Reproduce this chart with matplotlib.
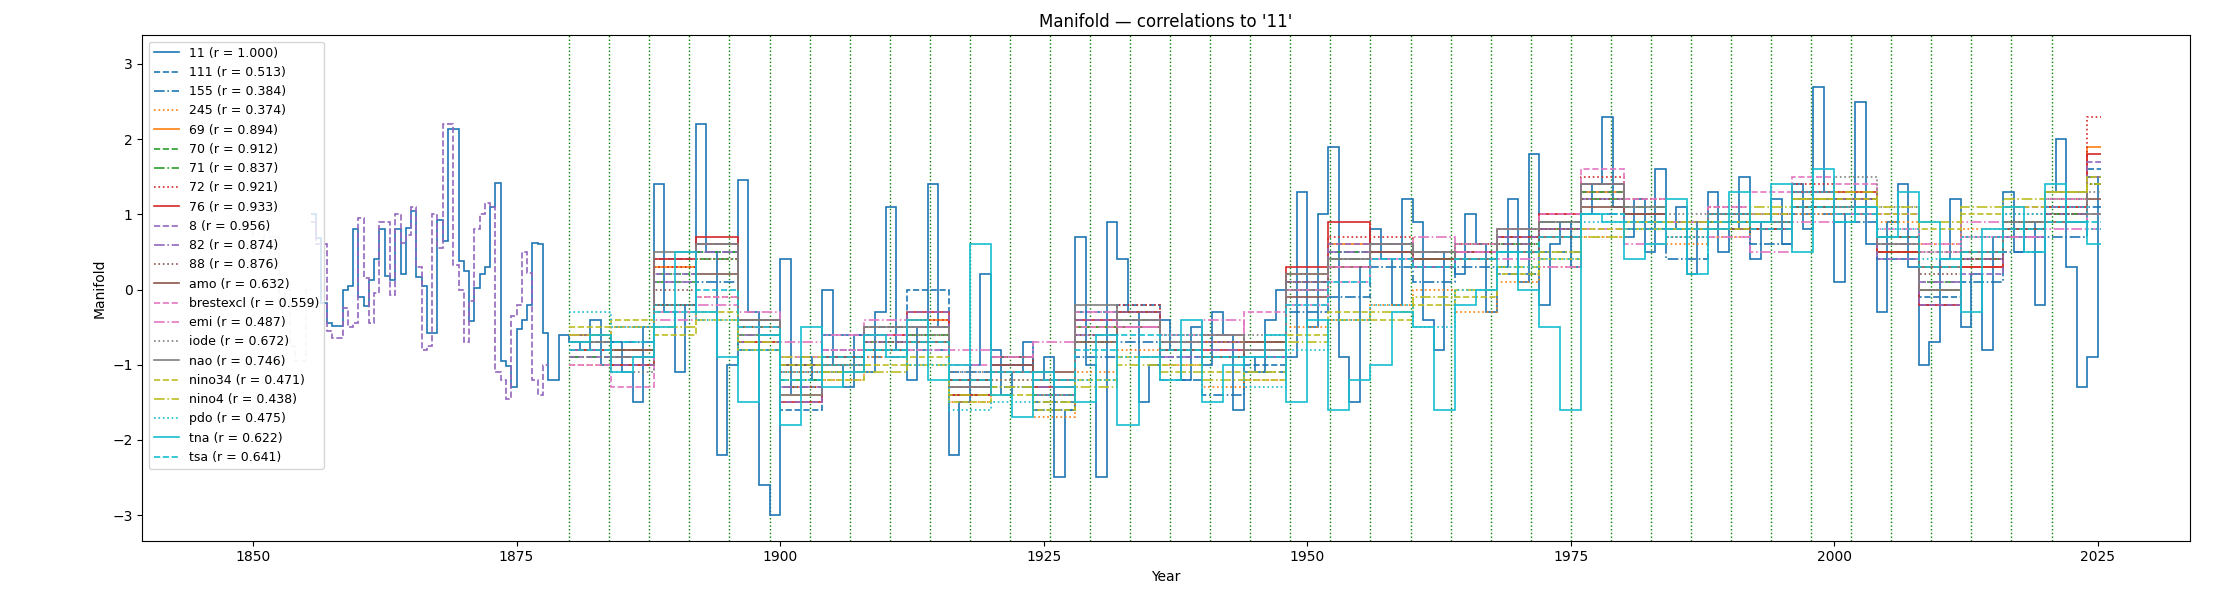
import numpy as np
import matplotlib.pyplot as plt

# series '11': half-year steps before 1878, yearly afterwards
s11_early = [1.0, 0.68, -0.18, -0.45, -0.48, -0.48, 0.0, 0.05, 0.8, -0.1, -0.22, 0.13, 0.4, 0.8,
             0.18, 0.12, 0.8, 0.2, 0.82, 1.05, 0.17, 0.05, -0.58, -0.58, 0.93, 0.65, 2.13, 2.13,
             0.38, 0.25, -0.42, 0.02, 0.2, 0.3, 1.1, 1.42, -0.95, -1.02, -1.3, -0.52, -0.4, -0.2,
             0.62, 0.61, -0.58]
s11_late = [-1.2, -0.6,
            -0.7, -0.8, -0.4, -1.0, -0.7, -1.1, -1.5, -0.5, 1.4, -0.3, -1.1, -0.2, 2.2, 0.5, -2.2,
            -1.0, 1.45, -0.3, -2.6, -3.0, 0.4, -1.4, -0.9, -1.2, 0.0, -1.0, -1.3, -0.6, -1.1, -0.3,
            1.1, -0.8, -1.2, -0.5, 1.4, -0.5, -2.2, -1.5, -1.0, 0.2, -0.8, -1.4, -1.1, -0.7, -1.2,
            -0.9, -2.5, -1.6, 0.7, -1.0, -2.5, 0.9, 0.4, -0.3, -1.5, -1.0, -0.4, -0.8, -1.2, -0.5,
            -1.0, -0.3, -0.6, -1.6, -0.9, -1.1, -0.4, 0.0, -0.9, 1.3, -0.5, 1.0, 1.9, -0.9, -1.5,
            0.3, 0.8, 0.4, -0.2, 1.2, 0.9, -0.4, -0.8, 0.5, 0.2, 1.0, 0.6, -0.3, 0.3, 1.2, 0.1,
            1.8, -0.2, 0.6, 0.9, 0.3, 1.0, 1.4, 2.3, 1.1, 0.7, 1.2, 0.5, 1.6, 0.8, 1.1, 0.2, 0.9,
            1.3, 0.5, 0.8, 1.5, 0.4, 0.9, 1.2, 0.6, 1.4, 0.8, 2.7, 1.3, 0.1, 1.0, 2.5, 0.6, -0.3,
            0.9, 1.4, 0.3, -1.0, -0.7, 0.4, 1.2, -0.5, 0.2, -0.8, 0.7, 1.3, 0.5, 0.9, -0.2, 1.3,
            2.0, 0.3, -1.3, -0.9, 1.5]

# series '8': faded half-year part 1848.5-1855.5, then half-year steps to 1878
s8_pale = [0.8, 0.8, 0.8, 0.5, 0.5, 1.0, 0.7, 0.7, -0.25, 0.0, -0.75, -0.95, -0.95, 0.0]
s8_early = [0.9, 0.6, 0.6, -0.55, -0.65, -0.65, -0.25, -0.5, -0.45, 0.95, 0.15, -0.45, -0.05,
            0.9, 0.9, -0.07, 1.0, 0.62, 0.72, 1.1, 0.3, -0.8, -0.75, 1.0, 0.55, 2.2, 2.2, 0.32,
            0.0, -0.7, -0.15, 0.8, 1.0, 1.15, 1.1, -1.1, -1.2, -1.45, -0.35, -0.2, 0.5, 0.22,
            -1.2, -1.4, -1.0]

# tna: two-year steps from 1880
tna = [-0.7, -0.6, -1.1, -0.9, -0.5, 0.5, -0.3, -0.9, -1.5, -0.6, -1.8, -0.5, -1.3, -1.1, -0.6,
       -0.9, -0.4, -1.2, -1.0, 0.6, -1.4, -1.7, -1.1, -1.3, -1.5, -0.6, -1.8, -0.9, -1.2, -0.4,
       -1.5, -1.0, -0.9, -0.6, -1.5, -0.4, -1.6, -1.2, -1.0, -0.3, -0.5, -1.6, -0.2, 0.0, 0.5,
       0.0, -0.5, -1.6, 1.0, 0.9, 0.4, 0.6, 1.2, 0.2, 0.8, 1.3, 0.9, 1.4, 0.5, 1.6, 0.9, 1.1,
       0.7, 1.3, 0.9, 0.4, -0.3, 0.8, 1.1, 0.5, 1.4, 0.9, 0.6]

# four-year steps from 1880
s111 = [-0.7,-0.9,0.4,0.5,-0.8,-1.6,-0.8,-0.5,0.0,-1.4,-0.9,-1.5,-0.3,-0.2,-0.9,-0.7,-1.0,0.1,0.5,0.4,0.3,0.5,0.5,0.9,1.3,0.9,0.8,1.0,0.9,1.3,1.2,0.4,-0.1,0.3,0.7,1.1,1.6]
s155 = [-0.9,-0.7,-0.2,0.1,-0.4,-1.0,-0.6,-0.9,-0.8,-1.1,-1.3,-1.6,-0.9,-0.7,-1.2,-1.4,-1.1,-0.3,-0.1,0.3,0.1,0.3,0.2,0.5,1.0,0.8,0.4,0.8,0.6,1.0,0.9,0.5,-0.2,0.1,0.5,0.7,1.1]
s245 = [-1.0,-0.8,-0.3,-0.1,-0.5,-1.1,-1.2,-0.9,-0.7,-1.5,-1.2,-1.7,-1.1,-0.8,-1.0,-1.3,-1.2,-0.5,-0.4,-0.2,0.0,-0.3,0.1,0.3,0.7,0.9,0.6,0.7,0.8,1.0,1.2,0.9,0.6,0.8,0.9,1.0,1.4]
s69 = [-0.8,-1.0,0.3,0.6,-0.7,-1.4,-0.9,-0.6,-0.4,-1.3,-1.0,-1.4,-0.5,-0.3,-0.8,-0.7,-0.8,0.2,0.6,0.5,0.4,0.4,0.7,0.8,1.3,1.0,0.8,0.9,0.8,1.2,1.2,0.5,0.0,0.3,0.8,1.1,1.9]
s70 = [-0.8,-1.0,0.2,0.5,-0.6,-1.3,-1.0,-0.7,-0.5,-1.4,-1.1,-1.3,-0.5,-0.4,-0.8,-0.9,-0.8,0.1,0.5,0.6,0.4,0.5,0.6,0.8,1.3,1.0,0.9,0.9,0.8,1.2,1.1,0.5,0.0,0.4,0.9,1.0,1.5]
s71 = [-0.9,-0.8,0.1,0.4,-0.5,-1.2,-1.1,-0.8,-0.6,-1.2,-1.0,-1.4,-0.7,-0.3,-0.7,-0.9,-0.7,0.0,0.4,0.6,0.5,0.5,0.7,0.9,1.2,1.1,0.8,1.0,0.9,1.1,1.2,0.7,0.1,0.5,0.8,1.0,1.4]
s72 = [-0.7,-0.9,0.3,0.6,-0.5,-1.3,-0.9,-0.5,-0.4,-1.2,-0.9,-1.2,-0.4,-0.2,-0.7,-0.6,-0.7,0.2,0.7,0.7,0.5,0.6,0.8,1.0,1.5,1.2,0.9,1.1,1.0,1.4,1.3,0.6,0.0,0.4,0.9,1.2,2.3]
s76 = [-0.8,-1.0,0.4,0.7,-0.7,-1.5,-0.9,-0.6,-0.3,-1.4,-1.0,-1.3,-0.4,-0.3,-0.8,-0.8,-0.9,0.3,0.9,0.5,0.3,0.5,0.7,1.0,1.4,1.0,0.8,1.0,0.8,1.3,1.3,0.5,-0.2,0.3,0.8,1.1,1.8]
s8_late = [-0.9,-1.0,0.2,0.6,-0.7,-1.5,-0.8,-0.6,-0.3,-1.3,-1.0,-1.4,-0.4,-0.3,-0.8,-0.7,-0.9,0.1,0.6,0.5,0.3,0.5,0.7,0.8,1.4,1.0,0.8,1.0,0.9,1.3,1.2,0.4,-0.2,0.2,0.7,1.1,1.7]
s82 = [-0.8,-0.9,0.1,0.5,-0.6,-1.3,-0.9,-0.7,-0.5,-1.2,-1.0,-1.3,-0.6,-0.4,-0.9,-0.8,-0.9,0.0,0.5,0.6,0.3,0.4,0.6,0.8,1.2,0.9,0.9,0.9,0.8,1.2,1.1,0.6,0.1,0.4,0.8,1.0,1.5]
s88 = [-0.7,-0.8,0.0,0.4,-0.5,-1.1,-0.9,-0.7,-0.6,-1.3,-0.9,-1.2,-0.6,-0.3,-0.8,-0.7,-0.8,0.1,0.4,0.6,0.4,0.5,0.6,0.8,1.2,1.0,0.7,0.9,0.8,1.1,1.2,0.7,0.2,0.4,0.8,1.0,1.4]
amo = [-0.6,-0.8,-0.2,0.2,-0.4,-1.0,-0.9,-0.8,-0.7,-1.2,-1.0,-1.1,-0.7,-0.5,-0.8,-0.9,-0.7,-0.1,0.3,0.5,0.4,0.4,0.5,0.7,1.1,1.0,0.8,0.8,0.9,1.1,1.0,0.7,0.3,0.5,0.8,0.9,1.2]
brestexcl = [-1.0,-1.3,-0.3,-0.1,-0.5,-0.9,-0.8,-0.6,-0.8,-1.0,-1.1,-1.2,-0.5,-0.5,-0.7,-0.6,-0.3,0.0,0.3,0.6,0.5,0.6,0.8,1.0,1.6,1.2,0.8,1.1,1.3,1.5,1.4,1.0,0.5,0.7,1.1,1.2,0.8]
emi = [-0.6,-0.5,-0.4,-0.2,-0.3,-0.7,-0.6,-0.4,-0.5,-0.8,-0.9,-0.7,-0.3,-0.5,-0.6,-0.4,-0.8,-0.2,0.1,0.4,0.7,0.5,0.4,0.3,0.8,0.6,0.9,0.7,0.5,0.9,1.0,0.8,0.6,0.9,0.7,0.8,1.0]
iode = [-0.9,-1.1,-0.2,0.2,-0.6,-1.0,-1.1,-0.8,-0.6,-1.1,-1.2,-1.2,-0.7,-0.4,-0.6,-0.9,-0.6,0.0,0.4,0.6,0.5,0.6,0.5,0.9,1.3,1.1,1.0,1.0,1.0,1.3,1.5,1.1,0.5,0.7,1.0,1.2,1.3]
nao = [-0.7,-0.9,0.5,0.6,-0.4,-1.4,-1.0,-0.5,-0.5,-1.3,-1.1,-1.2,-0.2,-0.4,-0.7,-0.6,-0.8,0.2,0.4,0.6,0.5,0.4,0.8,0.9,1.4,1.1,0.8,1.0,0.9,1.2,1.1,0.6,0.0,0.5,0.9,1.3,1.0]
nino34 = [-0.5,-0.4,-0.6,-0.3,-0.8,-1.0,-1.2,-1.0,-0.9,-1.5,-1.4,-1.6,-1.2,-0.9,-1.0,-1.1,-1.2,-0.6,-0.3,-0.4,-0.2,-0.1,0.2,0.4,0.8,0.9,0.8,0.8,1.0,1.2,1.2,1.0,0.8,1.0,1.1,1.3,1.5]
nino4 = [-0.6,-0.5,-0.5,-0.4,-0.7,-0.9,-1.1,-1.1,-1.0,-1.4,-1.3,-1.5,-1.3,-1.0,-1.1,-1.2,-1.1,-0.7,-0.4,-0.3,-0.1,0.0,0.3,0.5,0.7,0.8,0.9,0.9,1.1,1.2,1.3,1.1,0.9,1.1,1.2,1.3,1.4]
pdo = [-0.3,-0.5,-0.2,-0.4,-0.8,-1.1,-1.0,-0.8,-1.0,-1.6,-1.5,-1.4,-1.2,-0.9,-0.6,-0.9,-1.3,-0.8,-0.4,-0.2,-0.5,0.0,0.3,0.4,0.9,0.8,0.7,1.0,0.9,1.3,1.1,0.8,0.4,0.7,1.0,1.1,0.8]
tsa = [-0.8,-0.7,-0.3,0.0,-0.5,-1.2,-0.9,-0.8,-0.7,-1.2,-1.1,-1.2,-0.8,-0.6,-0.8,-0.9,-0.9,-0.2,0.1,0.4,0.3,0.4,0.5,0.7,1.0,0.9,0.8,0.9,0.8,1.1,1.0,0.7,0.3,0.5,0.8,0.9,0.9]

labels = ['11', '111', '155', '245', '69', '70', '71', '72', '76', '8', '82', '88', 'amo',
          'brestexcl', 'emi', 'iode', 'nao', 'nino34', 'nino4', 'pdo', 'tna', 'tsa']
corr = [1.000, 0.513, 0.384, 0.374, 0.894, 0.912, 0.837, 0.921, 0.933, 0.956, 0.874, 0.876,
        0.632, 0.559, 0.487, 0.672, 0.746, 0.471, 0.438, 0.475, 0.622, 0.641]
colors = ['C0', 'C0', 'C0', 'C1', 'C1', 'C2', 'C2', 'C3', 'C3', 'C4', 'C4', 'C5', 'C5',
          'C6', 'C6', 'C7', 'C7', 'C8', 'C8', 'C9', 'C9', 'C9']
styles = ['-', '--', '-.', ':', '-', '--', '-.', ':', '-', '--', '-.', ':', '-',
          '--', '-.', ':', '-', '--', '-.', ':', '-', '--']

# reset dates (green dotted lines)
breaks = [1880.0 + 3.8 * i for i in range(38)]
END = 2025.3


def edges(start, step, n):
    return np.minimum(start + step * np.arange(n + 1), END)


fig = plt.figure(figsize=(22.23, 6), dpi=100)
ax = fig.add_axes([0.064, 0.099, 0.921, 0.842])

for b in breaks:
    ax.axvline(b, color='green', ls=':', lw=1.0, zorder=0)

quad = {'111': s111, '155': s155, '245': s245, '69': s69, '70': s70, '71': s71, '72': s72,
        '76': s76, '82': s82, '88': s88, 'amo': amo, 'brestexcl': brestexcl, 'emi': emi,
        'iode': iode, 'nao': nao, 'nino34': nino34, 'nino4': nino4, 'pdo': pdo, 'tsa': tsa}

for lab, r, c, ls in zip(labels, corr, colors, styles):
    name = f'{lab} (r = {r:.3f})'
    kw = dict(color=c, ls=ls, lw=1.2, baseline=None)
    if lab == '11':
        v = np.array(s11_early + s11_late)
        e = np.concatenate([1855.5 + 0.5 * np.arange(len(s11_early)),
                            1878 + np.arange(len(s11_late) + 1)])
        e = np.minimum(e, END)
        ax.stairs(v, e, label=name, **kw)
    elif lab == '8':
        ax.stairs(s8_pale, edges(1848.5, 0.5, len(s8_pale)), alpha=0.3, **kw)
        ax.stairs(s8_early, edges(1855.5, 0.5, len(s8_early)), label=name, **kw)
        ax.stairs(s8_late, edges(1880, 4, len(s8_late)), **kw)
    elif lab == 'tna':
        ax.stairs(tna, edges(1880, 2, len(tna)), label=name, **kw)
    else:
        ax.stairs(quad[lab], edges(1880, 4, len(quad[lab])), label=name, **kw)

ax.set_xlim(1839.5, 2033.7)
ax.set_ylim(-3.34, 3.38)
ax.set_xlabel('Year')
ax.set_ylabel('Manifold')
ax.set_title("Manifold — correlations to '11'", fontsize=12)
ax.legend(loc='upper left', fontsize=9)
fig.savefig('out.png')
